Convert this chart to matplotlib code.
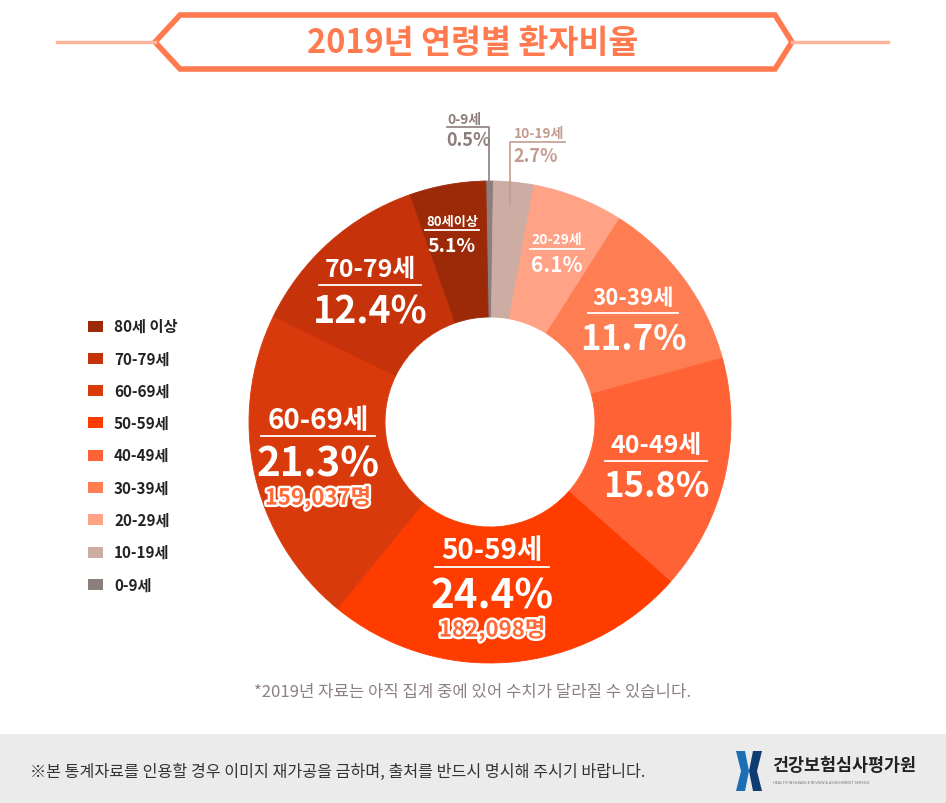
import matplotlib.pyplot as plt
import matplotlib.patheffects as pe
from matplotlib.patches import Rectangle, Polygon

# =========================
# 데이터
# =========================
ages = ["0-9세", "10-19세", "20-29세", "30-39세", "40-49세",
        "50-59세", "60-69세", "70-79세", "80세이상"]
shares = [0.5, 2.7, 6.1, 11.7, 15.8, 24.4, 21.3, 12.4, 5.1]
counts = {"50-59세": "182,098명", "60-69세": "159,037명"}
legend_names = ["80세 이상", "70-79세", "60-69세", "50-59세", "40-49세",
                "30-39세", "20-29세", "10-19세", "0-9세"]

colors = ["#8C7E7C", "#CDACA3", "#FFA286", "#FF7D52", "#FF6235",
          "#FF3C00", "#D93A0C", "#C6330A", "#9C2A08"]

FONT = ["Noto Sans CJK KR", "DejaVu Sans"]
plt.rcParams["font.family"] = FONT

# =========================
# 캔버스 (픽셀 좌표, y 아래로)
# =========================
W, H = 946, 804
fig = plt.figure(figsize=(W / 100, H / 100), dpi=100)
ax = fig.add_axes([0, 0, 1, 1])

cx, cy, r_out, r_in = 490, 423, 241, 105

wedges, _ = ax.pie(shares, colors=colors, startangle=-91, counterclock=True,
                   center=(cx, cy), radius=r_out,
                   wedgeprops=dict(width=r_out - r_in, linewidth=0.6))
for w, c in zip(wedges, colors):
    w.set_edgecolor(c)

ax.set_xlim(0, W)
ax.set_ylim(H, 0)
ax.set_aspect("equal")
ax.axis("off")

# =========================
# 제목 배너
# =========================
title_col = "#FF7A4E"
ax.plot([57, 155], [43, 43], color="#FFB49C", lw=2.5)
ax.plot([792, 888], [43, 43], color="#FFB49C", lw=2.5)
banner = Polygon([[155, 43], [180, 16], [775, 16], [792, 43], [775, 70], [180, 70]],
                 closed=True, fill=False, edgecolor=title_col, lw=4)
ax.add_patch(banner)
ax.text(473, 44, "2019년 연령별 환자비율", fontsize=23.5, fontweight="bold",
        color=title_col, ha="center", va="center")

# =========================
# 조각 라벨 (위치는 수동 배치)
# =========================
# (x, 라벨 y, 밑줄 y, 퍼센트 y, 라벨 크기, 퍼센트 크기, 밑줄 반폭)
layout = {
    "20-29세": (557, 240, 250, 266, 10, 15, 27),
    "30-39세": (633, 299, 314, 340, 16, 25, 45),
    "40-49세": (656, 446, 462, 487, 18, 25, 51),
    "50-59세": (492, 551, 568, 597, 20, 29, 57),
    "60-69세": (318, 421, 437, 465, 20, 29, 57),
    "70-79세": (370, 270, 286, 312, 18, 27, 51),
    "80세이상": (452, 222, 231, 246, 9.5, 14, 27),
}
for name, share in zip(ages, shares):
    if name not in layout:
        continue
    x, ly, uy, py, fs1, fs2, hw = layout[name]
    ax.text(x, ly, name, fontsize=fs1, fontweight="bold", color="white",
            ha="center", va="center")
    ax.plot([x - hw, x + hw], [uy, uy], color="white", lw=1.3)
    ax.text(x, py, f"{share}%", fontsize=fs2, fontweight="bold", color="white",
            ha="center", va="center")
    if name in counts:
        ax.text(x, py + 34, counts[name], fontsize=16, fontweight="bold",
                color="#FF6A38", ha="center", va="center",
                path_effects=[pe.withStroke(linewidth=3.5, foreground="white")])

# 작은 조각 (바깥 지시선)
ax.plot([489, 489, 447], [183, 128, 128], color=colors[0], lw=1.2)
ax.text(447, 120, ages[0], fontsize=10, fontweight="bold", color=colors[0],
        ha="left", va="center")
ax.text(446, 141, f"{shares[0]}%", fontsize=13, fontweight="bold", color=colors[0],
        ha="left", va="center")

lab2 = "#C39C90"
ax.plot([510, 510, 565], [207, 143, 143], color=lab2, lw=1.2)
ax.text(514, 134, ages[1], fontsize=10, fontweight="bold", color=lab2,
        ha="left", va="center")
ax.text(513, 156, f"{shares[1]}%", fontsize=13, fontweight="bold", color=lab2,
        ha="left", va="center")

# =========================
# 범례
# =========================
for i, (name, col) in enumerate(zip(legend_names, colors[::-1])):
    y = 327 + i * 32.3
    ax.add_patch(Rectangle((88, y - 5.5), 15, 11, color=col, lw=0))
    ax.text(114, y, name, fontsize=11, fontweight="bold", color="#222222",
            ha="left", va="center")

# =========================
# 주석 및 하단
# =========================
ax.text(473, 693, "*2019년 자료는 아직 집계 중에 있어 수치가 달라질 수 있습니다.",
        fontsize=12, color="#8C8080", ha="center", va="center")

ax.add_patch(Rectangle((0, 735), W, H - 735, color="#EBEBEB", lw=0))
ax.text(30, 772, "※본 통계자료를 인용할 경우 이미지 재가공을 금하며, 출처를 반드시 명시해 주시기 바랍니다.",
        fontsize=11.6, color="#333333", ha="left", va="center")

# 로고
logo_col = "#1B6FB5"
ax.add_patch(Polygon([[736, 752], [745, 752], [749, 772], [745, 792], [736, 792], [741, 772]],
                     closed=True, color=logo_col, lw=0))
ax.add_patch(Polygon([[762, 752], [753, 752], [749, 772], [753, 792], [762, 792], [757, 772]],
                     closed=True, color="#0E3C73", lw=0))
ax.text(772, 766, "건강보험심사평가원", fontsize=12.5, fontweight="bold",
        color="#222222", ha="left", va="center")
ax.text(773, 783, "HEALTH INSURANCE REVIEW & ASSESSMENT SERVICE", fontsize=2.8,
        color="#777777", ha="left", va="center")

fig.savefig("out.png", dpi=100, facecolor="white")
